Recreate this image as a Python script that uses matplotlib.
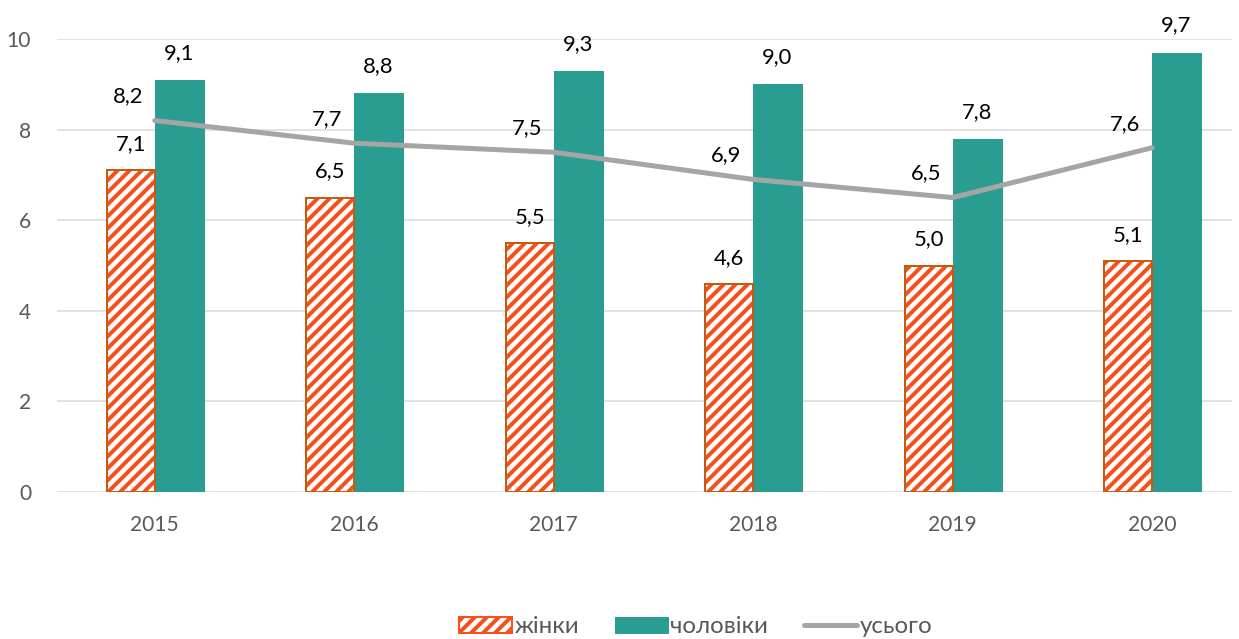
import matplotlib
matplotlib.use("Agg")
import matplotlib.pyplot as plt
from matplotlib.patches import Patch
from matplotlib.lines import Line2D
import numpy as np

years = ["2015", "2016", "2017", "2018", "2019", "2020"]
women = [7.1, 6.5, 5.5, 4.6, 5.0, 5.1]
men = [9.1, 8.8, 9.3, 9.0, 7.8, 9.7]
total = [8.2, 7.7, 7.5, 6.9, 6.5, 7.6]
yticks = [0, 2, 4, 6, 8, 10]

plt.rcParams['font.family'] = ['Lato', 'Open Sans', 'DejaVu Sans']
plt.rcParams['hatch.linewidth'] = 4.0

DPI = 72
W, H = 1239, 639
fig = plt.figure(figsize=(W / DPI, H / DPI), dpi=DPI)
left, right, top, bottom = 57, 1232, 39, 492
ax = fig.add_axes([left / W, (H - bottom) / H, (right - left) / W, (bottom - top) / H])

x = np.arange(len(years))
bw = 0.24
off = 0.12
hatch_c = '#F4511E'
edge_c = '#C55A11'
men_c = '#2A9D93'
line_c = '#A5A5A5'

ax.bar(x - off, women, bw, facecolor='white', edgecolor=hatch_c, linewidth=0, hatch='//', zorder=2)
ax.bar(x - off, women, bw, fill=False, edgecolor=edge_c, linewidth=2, zorder=3)
ax.bar(x + off + 0.005, men, bw + 0.01, color=men_c, zorder=2)
ax.plot(x, total, color=line_c, linewidth=5, solid_capstyle='round', zorder=4)

fs = 22
for i in range(len(years)):
    ax.annotate(f"{women[i]:.1f}".replace('.', ','), (x[i] - off, women[i]), xytext=(0, 26),
                textcoords='offset points', ha='center', va='center', fontsize=fs, color='#000000')
    ax.annotate(f"{men[i]:.1f}".replace('.', ','), (x[i] + off, men[i]), xytext=(0, 27),
                textcoords='offset points', ha='center', va='center', fontsize=fs, color='#000000')
    ax.annotate(f"{total[i]:.1f}".replace('.', ','), (x[i], total[i]), xytext=(-27, 24),
                textcoords='offset points', ha='center', va='center', fontsize=fs, color='#000000')

ax.set_xlim(-0.49, 5.40)
ax.set_ylim(0, 10)
ax.set_yticks(yticks)
ax.set_yticklabels([str(t) for t in yticks])
ax.set_xticks(x)
ax.set_xticklabels(years)
ax.grid(axis='y', color='#D9D9D9', linewidth=1.5, zorder=0)
ax.set_axisbelow(True)
for s in ax.spines.values():
    s.set_visible(False)
ax.tick_params(axis='both', length=0, labelsize=21, colors='#595959')
ax.tick_params(axis='x', pad=23)
ax.tick_params(axis='y', pad=26)

handles = [
    Patch(facecolor='white', edgecolor=hatch_c, hatch='//', linewidth=2),
    Patch(facecolor=men_c, edgecolor=men_c),
    Line2D([0], [0], color=line_c, linewidth=5, solid_capstyle='round'),
]
fig.legend(handles, ["жінки", "чоловіки", "усього"], loc='center', bbox_to_anchor=(0.5615, 0.019),
           ncol=3, frameon=False, fontsize=24, labelcolor='#595959', handlelength=2.2,
           handleheight=0.67, handletextpad=0.1, columnspacing=1.5)

fig.savefig("out.png", dpi=DPI)
